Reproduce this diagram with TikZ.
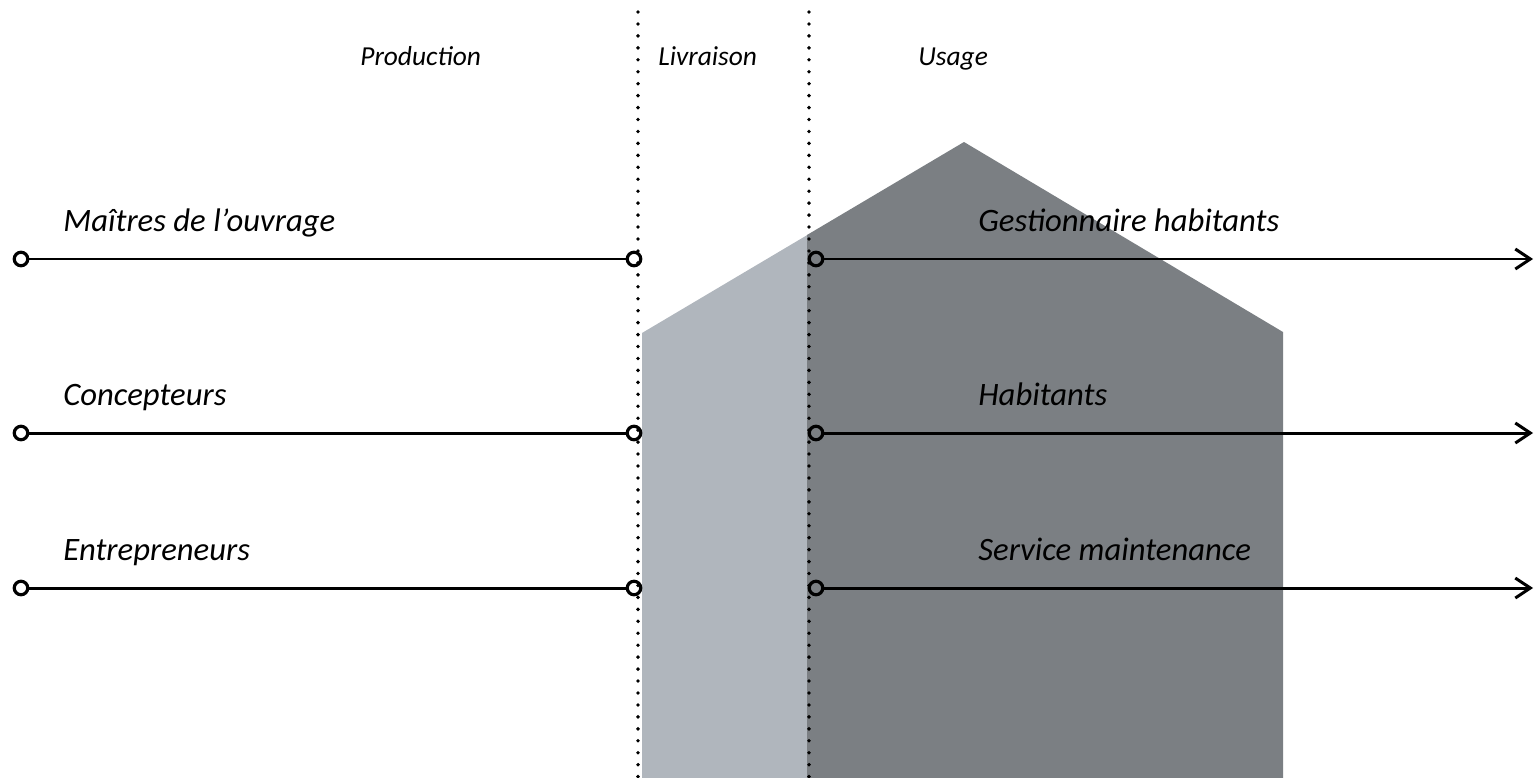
\documentclass[tikz,border=0pt]{standalone}
\usepackage{fontspec}
\setmainfont{Carlito}
\usetikzlibrary{arrows.meta}
\definecolor{houseLight}{RGB}{176,182,189}
\definecolor{houseDark}{RGB}{123,127,131}

\begin{document}
\begin{tikzpicture}[x=0.02cm, y=-0.02cm,
    every node/.style={inner sep=0pt},
    endpt/.style={circle, draw, line width=1.8pt, minimum size=0.27cm},
    actor/.style={anchor=base west, font=\fontsize{18.6}{22}\selectfont\itshape},
    phase/.style={anchor=base west, font=\fontsize{15.6}{18}\selectfont\itshape},
    flow/.style={line width=1.7pt},
    border/.style={line width=2.2pt, line cap=round, dash pattern=on 0pt off 6.8pt}]
                \useasboundingbox (0,0) rectangle (1536,778);

                % house
                \fill[houseLight] (642,778) -- (642,333) -- (809,234) -- (809,778) -- cycle;
                \fill[houseDark] (807,778) -- (807,235) -- (964,142) -- (1283,332) -- (1283,778) -- cycle;

                % phases
                \coordinate (B1top) at (638,12);
                \coordinate (B1bot) at (638,778);
                \coordinate (B2top) at (809,12);
                \coordinate (B2bot) at (809,778);
                \draw[border] (B1top) -- (B1bot);
                \draw[border] (B2top) -- (B2bot);

                \node[phase] (prod) at (360,65) {Production};
                \node[phase] (livr) at (658,65) {Livraison};
                \node[phase] (usage) at (918,65) {Usage};

                % acteurs
                \node[actor] (maitres) at (63,231) {Maîtres de l’ouvrage};
                \node[actor] (concep) at (63,405) {Concepteurs};
                \node[actor] (entre) at (63,560) {Entrepreneurs};
                \node[actor] (gestion) at (978,231) {Gestionnaire habitants};
                \node[actor] (habit) at (978,405) {Habitants};
                \node[actor] (service) at (978,560) {Service maintenance};

                \foreach \i/\y in {1/259, 2/433, 3/588} {
                    \node[endpt] (L\i) at (21,\y) {};
                    \node[endpt] (M\i) at (634,\y) {};
                    \node[endpt] (R\i) at (816,\y) {};
                    \coordinate (E\i) at (1533,\y);
                    \draw[flow] (L\i) -- (M\i);
                    \draw[flow, -{Straight Barb[length=0.3cm, width=0.4cm]}] (R\i) -- (E\i);
                }
            \end{tikzpicture}
\end{document}
